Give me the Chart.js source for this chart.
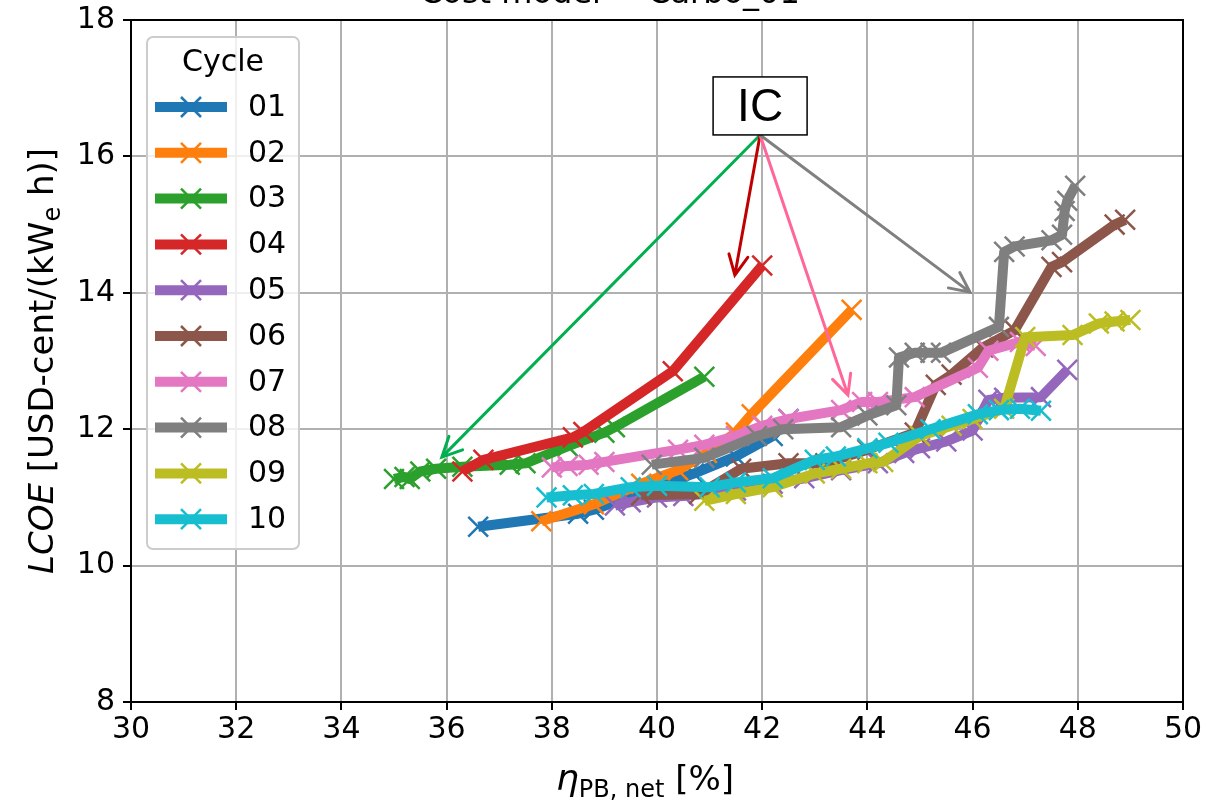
<!DOCTYPE html>
<html>
<head>
<meta charset="utf-8">
<script src="https://cdn.jsdelivr.net/npm/chart.js@4.4.1/dist/chart.umd.min.js"></script>
<style>
  html, body { margin: 0; padding: 0; background: #fff; }
  #wrap { width: 1218px; height: 800px; }
</style>
</head>
<body>
<div id="wrap"><canvas id="lcoeChart" width="1218" height="800"></canvas></div>
<script>
// cycles and their colours (matplotlib tab10)
const cycleLabels = ["01", "02", "03", "04", "05", "06", "07", "08", "09", "10"];
const cycleColors = ["#1f77b4", "#ff7f0e", "#2ca02c", "#d62728", "#9467bd",
                     "#8c564b", "#e377c2", "#7f7f7f", "#bcbd22", "#17becf"];

// net power block efficiency [%] and LCOE [USD-cent/kWh] per cycle
const eta01  = [36.6, 38.5, 38.8, 39.8, 40.7, 41.5, 42.2, 42.5];
const lcoe01 = [10.57, 10.76, 10.82, 11.1, 11.35, 11.6, 11.9, 12.15];

const eta02  = [37.8, 38.8, 39.7, 40.4, 40.95, 41.5, 41.8, 43.7];
const lcoe02 = [10.65, 10.9, 11.2, 11.4, 11.65, 11.95, 12.22, 13.75];

const eta03  = [35.0, 35.2, 35.3, 35.5, 35.8, 36.3, 37.2, 37.5, 38.3, 39.0, 39.2, 40.9];
const lcoe03 = [11.27, 11.3, 11.27, 11.38, 11.42, 11.45, 11.48, 11.5, 11.75, 11.95, 12.03, 12.77];

const eta04  = [36.3, 36.7, 38.4, 38.6, 40.3, 42.0];
const lcoe04 = [11.38, 11.55, 11.88, 11.96, 12.85, 14.4];

const eta05  = [39.2, 39.5, 40.0, 40.5, 41.5, 42.2, 42.8, 43.5, 44.2, 44.7, 45.0, 45.5, 46.0, 46.3, 46.6, 47.3, 47.8];
const lcoe05 = [10.88, 10.93, 11.0, 11.02, 11.1, 11.2, 11.28, 11.4, 11.5, 11.65, 11.72, 11.82, 11.98, 12.43, 12.46, 12.47, 12.87];

const eta06  = [39.7, 40.8, 41.6, 42.5, 43.2, 44.0, 44.9, 45.3, 45.6, 46.2, 46.8, 47.5, 47.7, 48.7, 48.9];
const lcoe06 = [11.03, 11.05, 11.42, 11.5, 11.5, 11.7, 11.95, 12.65, 12.8, 13.2, 13.45, 14.38, 14.45, 15.0, 15.07];

const eta07  = [38.0, 38.3, 38.7, 39.0, 40.4, 40.9, 41.5, 42.0, 42.5, 43.5, 43.9, 44.2, 44.9, 46.1, 46.3, 46.9, 47.2];
const lcoe07 = [11.44, 11.46, 11.48, 11.52, 11.7, 11.77, 11.9, 12.05, 12.15, 12.28, 12.4, 12.4, 12.47, 12.9, 13.15, 13.28, 13.22];

const eta08  = [39.9, 40.9, 41.9, 42.4, 43.5, 44.0, 44.55, 44.6, 44.9, 45.2, 45.4, 46.5, 46.6, 46.8, 47.5, 47.7, 47.75, 47.8, 47.95];
const lcoe08 = [11.48, 11.58, 11.9, 12.0, 12.03, 12.2, 12.35, 13.05, 13.12, 13.12, 13.12, 13.5, 14.6, 14.68, 14.77, 14.85, 15.2, 15.35, 15.57];

const eta09  = [40.9, 41.5, 42.2, 43.0, 43.5, 44.0, 44.3, 45.0, 45.6, 46.0, 46.6, 47.0, 47.9, 48.4, 48.7, 49.0];
const lcoe09 = [10.95, 11.05, 11.15, 11.35, 11.42, 11.5, 11.52, 11.9, 12.05, 12.15, 12.3, 13.35, 13.38, 13.55, 13.58, 13.6];

const eta10  = [37.9, 38.4, 38.8, 39.5, 40.0, 41.0, 41.5, 42.2, 43.0, 43.4, 44.0, 44.4, 45.2, 46.1, 46.5, 46.9, 47.3];
const lcoe10 = [11.0, 11.03, 11.05, 11.15, 11.17, 11.15, 11.22, 11.28, 11.55, 11.6, 11.72, 11.8, 12.0, 12.22, 12.28, 12.3, 12.27];

const etaSeries  = [eta01, eta02, eta03, eta04, eta05, eta06, eta07, eta08, eta09, eta10];
const lcoeSeries = [lcoe01, lcoe02, lcoe03, lcoe04, lcoe05, lcoe06, lcoe07, lcoe08, lcoe09, lcoe10];

// axis ticks
const xTicks = [30, 32, 34, 36, 38, 40, 42, 44, 46, 48, 50];
const yTicks = [8, 10, 12, 14, 16, 18];

// "IC" annotation (data coordinates)
const icText = "IC";
const icPos = [41.96, 16.74];
const arrowTargets = [[35.91, 11.59], [41.48, 14.26], [43.63, 12.5], [45.95, 14.01]];
const arrowColors = ["#00b050", "#c00000", "#ff6699", "#808080"];

const titleText = "Cost model = Carbo_01";
const FONT = '"DejaVu Sans", sans-serif';

const datasets = cycleLabels.map((lbl, i) => ({
  label: lbl,
  data: etaSeries[i].map((v, k) => ({ x: v, y: lcoeSeries[i][k] })),
  showLine: true,
  borderColor: cycleColors[i],
  backgroundColor: cycleColors[i],
  borderWidth: 10,
  borderJoinStyle: "round",
  borderCapStyle: "butt",
  tension: 0,
  pointStyle: "crossRot",
  pointRadius: 14,
  pointBorderWidth: 2.5,
  pointBorderColor: cycleColors[i],
  order: cycleLabels.length - i
}));

function drawRich(ctx, parts, x, y) {
  let w = 0;
  parts.forEach(p => {
    ctx.font = (p.italic ? "italic " : "") + p.size + "px " + FONT;
    p.w = ctx.measureText(p.t).width;
    w += p.w;
  });
  let cx = x - w / 2;
  parts.forEach(p => {
    ctx.font = (p.italic ? "italic " : "") + p.size + "px " + FONT;
    ctx.fillText(p.t, cx, y + (p.dy || 0));
    cx += p.w;
  });
}

function drawArrow(ctx, x0, y0, x1, y1, color) {
  const ang = Math.atan2(y1 - y0, x1 - x0);
  const len = 22, spread = 0.45;
  ctx.strokeStyle = color;
  ctx.lineWidth = 3;
  ctx.lineCap = "round";
  ctx.beginPath();
  ctx.moveTo(x0, y0);
  ctx.lineTo(x1, y1);
  ctx.moveTo(x1 - len * Math.cos(ang - spread), y1 - len * Math.sin(ang - spread));
  ctx.lineTo(x1, y1);
  ctx.lineTo(x1 - len * Math.cos(ang + spread), y1 - len * Math.sin(ang + spread));
  ctx.stroke();
}

const annotations = {
  id: "annotations",
  afterDatasetsDraw(chart) {
    const { ctx, scales: { x, y } } = chart;
    const cx = x.getPixelForValue(icPos[0]);
    const cy = y.getPixelForValue(icPos[1]);
    const bw = 94, bh = 58;
    ctx.save();
    arrowTargets.forEach((t, i) => {
      drawArrow(ctx, cx, cy + bh / 2, x.getPixelForValue(t[0]), y.getPixelForValue(t[1]), arrowColors[i]);
    });
    ctx.fillStyle = "#fff";
    ctx.fillRect(cx - bw / 2, cy - bh / 2, bw, bh);
    ctx.strokeStyle = "#000";
    ctx.lineWidth = 1.5;
    ctx.strokeRect(cx - bw / 2, cy - bh / 2, bw, bh);
    ctx.fillStyle = "#000";
    ctx.font = '46px "Liberation Sans", Arial, sans-serif';
    ctx.textAlign = "center";
    ctx.textBaseline = "middle";
    ctx.fillText(icText, cx, cy + 2);
    ctx.restore();
  },
  afterDraw(chart) {
    const { ctx, chartArea: a } = chart;
    ctx.save();
    // frame
    ctx.strokeStyle = "#000";
    ctx.lineWidth = 2;
    ctx.strokeRect(a.left, a.top, a.right - a.left, a.bottom - a.top);

    // title (cut off at the top like the original)
    ctx.fillStyle = "#000";
    ctx.textAlign = "left";
    ctx.textBaseline = "alphabetic";
    ctx.font = "32px " + FONT;
    ctx.fillText(titleText, 420, 3);

    // axis titles
    drawRich(ctx, [
      { t: "\u03b7", size: 36, italic: true },
      { t: "PB, net", size: 24, dy: 7 },
      { t: " [%]", size: 34 }
    ], (a.left + a.right) / 2 - 12, 790);

    ctx.save();
    ctx.translate(53, (a.top + a.bottom) / 2);
    ctx.rotate(-Math.PI / 2);
    drawRich(ctx, [
      { t: "LCOE", size: 34, italic: true },
      { t: " [USD-cent/(kW", size: 34 },
      { t: "e", size: 24, dy: 7 },
      { t: " h)]", size: 34 }
    ], 0, 0);
    ctx.restore();

    // legend
    const lx = 147, ly = 37, lw = 152, lh = 512;
    ctx.beginPath();
    ctx.roundRect(lx, ly, lw, lh, 6);
    ctx.fillStyle = "rgba(255,255,255,0.8)";
    ctx.fill();
    ctx.strokeStyle = "#cccccc";
    ctx.lineWidth = 2;
    ctx.stroke();

    ctx.fillStyle = "#000";
    ctx.font = "30px " + FONT;
    ctx.textAlign = "center";
    ctx.textBaseline = "middle";
    ctx.fillText("Cycle", 223, 63);
    ctx.textAlign = "left";
    cycleLabels.forEach((lbl, i) => {
      const ry = 107 + i * 45.8;
      ctx.strokeStyle = cycleColors[i];
      ctx.lineWidth = 10;
      ctx.lineCap = "butt";
      ctx.beginPath();
      ctx.moveTo(155, ry);
      ctx.lineTo(227, ry);
      ctx.stroke();
      ctx.lineWidth = 2.5;
      ctx.beginPath();
      ctx.moveTo(181, ry - 10); ctx.lineTo(201, ry + 10);
      ctx.moveTo(181, ry + 10); ctx.lineTo(201, ry - 10);
      ctx.stroke();
      ctx.fillStyle = "#000";
      ctx.fillText(lbl, 248, ry + 1);
    });
    ctx.restore();
  }
};

new Chart(document.getElementById("lcoeChart"), {
  type: "scatter",
  data: { datasets },
  options: {
    responsive: false,
    animation: false,
    layout: { padding: { top: 20, right: 35, bottom: 0, left: 0 } },
    plugins: {
      legend: { display: false },
      tooltip: { enabled: false },
      title: { display: false }
    },
    scales: {
      x: {
        type: "linear",
        min: xTicks[0],
        max: xTicks[xTicks.length - 1],
        afterBuildTicks: s => { s.ticks = xTicks.map(v => ({ value: v })); },
        afterFit: s => { s.height = 98; s.paddingLeft = 0; s.paddingRight = 0; },
        ticks: { color: "#000", font: { family: FONT, size: 30 }, padding: 2, maxRotation: 0 },
        grid: { color: "#b0b0b0", lineWidth: 2, tickLength: 8, tickColor: "#000", tickWidth: 2 },
        border: { color: "#000", width: 2 }
      },
      y: {
        type: "linear",
        min: yTicks[0],
        max: yTicks[yTicks.length - 1],
        afterBuildTicks: s => { s.ticks = yTicks.map(v => ({ value: v })); },
        afterFit: s => { s.width = 131; s.paddingTop = 0; s.paddingBottom = 0; },
        ticks: { color: "#000", font: { family: FONT, size: 30 }, padding: 8 },
        grid: { color: "#b0b0b0", lineWidth: 2, tickLength: 8, tickColor: "#000", tickWidth: 2 },
        border: { color: "#000", width: 2 }
      }
    }
  },
  plugins: [annotations]
});
</script>
</body>
</html>
